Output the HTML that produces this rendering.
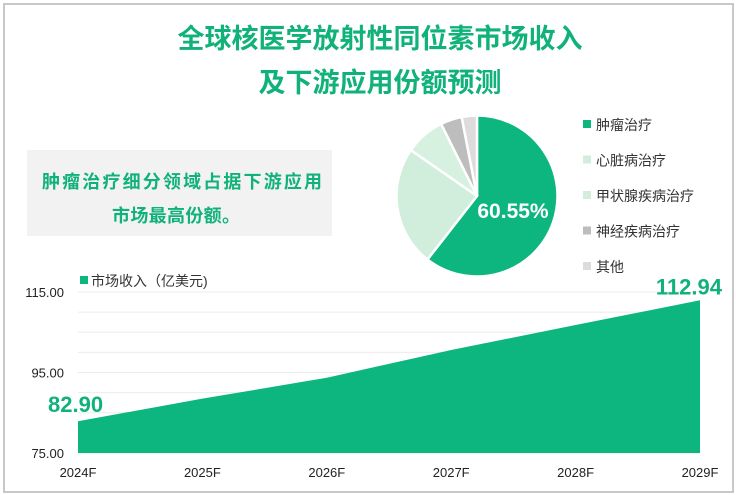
<!DOCTYPE html>
<html><head><meta charset="utf-8"><style>
body{margin:0;width:736px;height:495px;background:#fff;overflow:hidden;font-family:"Liberation Sans","Noto Sans CJK SC",sans-serif}
#frame{position:absolute;left:3px;top:3px;width:727px;height:486px;border:2px solid #c8c8c8}
</style></head><body>
<div id="frame"></div>
<svg width="736" height="495" style="position:absolute;left:0;top:0">
<text x="380" y="48" text-anchor="middle" font-size="27" font-weight="bold" fill="#10b27a">全球核医学放射性同位素市场收入</text>
<text x="380" y="92" text-anchor="middle" font-size="27" font-weight="bold" fill="#10b27a">及下游应用份额预测</text>
<rect x="27" y="150" width="305" height="86" fill="#f2f2f2"/>
<text x="42" y="188" font-size="18" font-weight="bold" fill="#10b27a" textLength="280">肿瘤治疗细分领域占据下游应用</text>
<text x="112" y="222" font-size="18" font-weight="bold" fill="#10b27a" textLength="128">市场最高份额。</text>
<g id="pie"></g><g id="legend"></g><g id="area"></g>
</svg>
<script>
const sliceNames=["肿瘤治疗","心脏病治疗","甲状腺疾病治疗","神经疾病治疗","其他"];
const sliceValues=[60.55,24.1,8.0,4.3,3.05];
const sliceColors=["#0db57f","#d0eedb","#d6f1e0","#bdbdbd","#dcdcdc"];
const years=["2024F","2025F","2026F","2027F","2028F","2029F"];
const revenue=[82.90,88.5,93.7,100.6,106.8,112.94];
const yTicks=[75,95,115];
const NS="http://www.w3.org/2000/svg";
function mk(t,a,p){const e=document.createElementNS(NS,t);for(const k in a)e.setAttribute(k,a[k]);p.appendChild(e);return e;}
const pie=document.getElementById('pie');const cx=477,cy=196,r=80.5;
const tot=sliceValues.reduce((a,b)=>a+b,0);let acc=0;
sliceValues.forEach((v,i)=>{const a0=acc/tot*2*Math.PI;acc+=v;const a1=acc/tot*2*Math.PI;
const x0=cx+r*Math.sin(a0),y0=cy-r*Math.cos(a0),x1=cx+r*Math.sin(a1),y1=cy-r*Math.cos(a1);
const p=mk('path',{d:`M${cx},${cy}L${x0},${y0}A${r},${r} 0 ${a1-a0>Math.PI?1:0} 1 ${x1},${y1}Z`,fill:sliceColors[i],stroke:"#fff","stroke-width":2.5},pie);

});
const pl=mk('text',{x:513,y:218,"text-anchor":"middle","font-size":21,"font-weight":"bold",fill:"#fff"},pie);pl.textContent=(sliceValues[0]).toFixed(2)+"%";


const lg=document.getElementById('legend');
sliceNames.forEach((n,i)=>{const y=125+i*35.5;const g=mk('g',{},lg);


mk('rect',{x:583,y:y-5,width:8,height:8,fill:i==2?"#d0eedb":sliceColors[i]},g);
const t=mk('text',{x:596,y:y+5,"font-size":14,fill:"#333"},g);t.textContent=n;});
const ar=document.getElementById('area');
const X0=78,X1=700,Y0=453,Y1=292;
const xs=i=>X0+(X1-X0)*i/(years.length-1);
const ys=v=>Y0-(v-75)/(115-75)*(Y0-Y1);
for(let v=75;v<=115;v+=5){const l=mk('line',{x1:X0,x2:X1,y1:ys(v),y2:ys(v),stroke:"#ececec"},ar);}
let d=`M${xs(0)},${ys(75)}`;revenue.forEach((v,i)=>d+=`L${xs(i)},${ys(v)}`);d+=`L${xs(revenue.length-1)},${ys(75)}Z`;
const ap=mk('path',{d:d,fill:"#0db57f"},ar);


yTicks.forEach(v=>{const t=mk('text',{x:64,y:ys(v)+5,"text-anchor":"end","font-size":13,fill:"#222"},ar);t.textContent=v.toFixed(2);

});
years.forEach((y,i)=>{const t=mk('text',{x:Math.min(Math.max(xs(i),60),712),y:477,"text-anchor":"middle","font-size":13,fill:"#222"},ar);t.textContent=y;

});
const v0=mk('text',{x:48,y:ys(revenue[0])-9,"font-size":22,"font-weight":"bold",fill:"#10b27a"},ar);v0.textContent=revenue[0].toFixed(2);


const n=revenue.length-1;const v1=mk('text',{x:722,y:ys(revenue[n])-6,"text-anchor":"end","font-size":22,"font-weight":"bold",fill:"#10b27a"},ar);v1.textContent=revenue[n].toFixed(2);


const lgg=mk('g',{},ar);


mk('rect',{x:80,y:276,width:8,height:8,fill:"#0db57f"},lgg);
const lt=mk('text',{x:91,y:286,"font-size":14,fill:"#333"},lgg);lt.textContent="市场收入（亿美元)";
</script>
</body></html>
